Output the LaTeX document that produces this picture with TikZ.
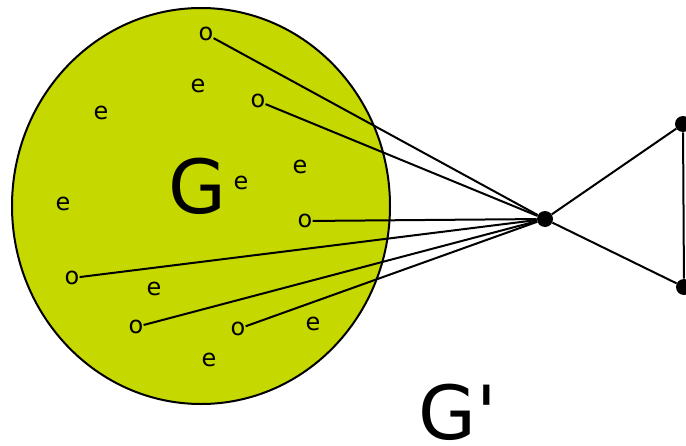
\documentclass[tikz,border=0pt]{standalone}
\usepackage{fontspec}
\setmainfont{DejaVu Sans}
\newfontfamily\plainsans{DejaVu Sans}
\usetikzlibrary{positioning}
\definecolor{lime}{RGB}{197,216,0}
\definecolor{ink}{RGB}{0,0,0}
\tikzset{
  mark label/.style={font=\fontsize{18}{18}\selectfont,inner sep=0pt,text=ink},
  graph name/.style={font=\plainsans\fontsize{56}{56}\selectfont,inner sep=0pt,anchor=base,text=ink},
  dot/.style={circle,fill=ink,inner sep=0pt,minimum size=12pt},
  link/.style={draw=ink,line width=1.5pt},
}
\begin{document}
\begin{tikzpicture}[x=0.75pt,y=-0.75pt]
  \useasboundingbox (0,0) rectangle (686,446);
  % the big graph G
  \draw[link,fill=lime] (201,206) ellipse [x radius=189, y radius=198];
  \node[graph name] (gname) at (197.5,213) {G};
  \node[graph name] (gprime) at (457.5,439) {G'};
  % inner vertices
  \foreach \x/\y [count=\i] in {198/86,101/113,300/167,241/183,63/204,154/289,313/324,209/360}
    \node[mark label] (e\i) at (\x,\y) {e};
  \foreach \x/\y [count=\i] in {206/34,258/101,305/221,72/278,136/327,238/329}
    \node[mark label] (o\i) at (\x,\y) {o};
  % outer triangle
  \node[dot] (hub) at (545,219) {};
  \node[dot] (top) at (683,124) {};
  \node[dot] (bot) at (684,287) {};
  \foreach \i in {1,...,6}
    \draw[link] (o\i) -- (hub);
  \draw[link] (hub) -- (top) -- (bot) -- (hub);
\end{tikzpicture}
\end{document}
